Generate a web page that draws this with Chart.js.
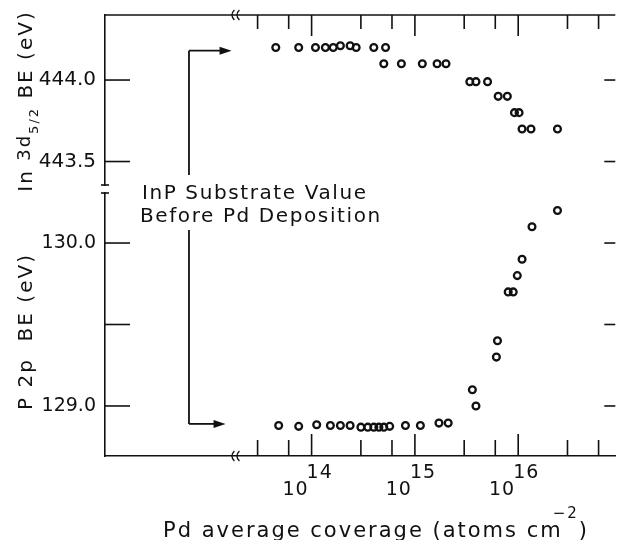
<!DOCTYPE html>
<html>
<head>
<meta charset="utf-8">
<script src="https://cdn.jsdelivr.net/npm/chart.js@4"></script>
<style>
  html, body { margin: 0; padding: 0; background: #fff; }
</style>
</head>
<body>
<canvas id="chart" width="621" height="540"></canvas>
<script>
// Pd coverage (atoms cm-2) and core level binding energies (eV)
var inCoverage = [4.5e13, 7.5e13, 1.09e14, 1.36e14, 1.62e14, 1.9e14, 2.36e14, 2.7e14, 4.0e14, 5.2e14,
                  5.0e14, 7.4e14, 1.18e15, 1.64e15, 2.0e15,
                  3.4e15, 3.9e15, 5.05e15, 6.4e15, 7.85e15, 9.2e15, 1.02e16, 1.09e16, 1.33e16, 2.4e16];
var inBE = [444.2, 444.2, 444.2, 444.2, 444.2, 444.21, 444.21, 444.2, 444.2, 444.2,
            444.1, 444.1, 444.1, 444.1, 444.1,
            443.99, 443.99, 443.99, 443.9, 443.9, 443.8, 443.8, 443.7, 443.7, 443.7];
var pCoverage = [4.8e13, 7.5e13, 1.12e14, 1.52e14, 1.9e14, 2.36e14, 3.0e14, 3.5e14, 4.0e14, 4.48e14,
                 5.0e14, 5.7e14, 8.1e14, 1.13e15, 1.71e15, 2.1e15,
                 3.6e15, 3.9e15, 6.15e15, 6.3e15, 8.0e15, 8.95e15, 9.8e15, 1.09e16, 1.36e16, 2.4e16];
var pBE = [128.88, 128.875, 128.885, 128.88, 128.88, 128.88, 128.87, 128.87, 128.87, 128.87,
           128.87, 128.875, 128.88, 128.88, 128.895, 128.895,
           129.1, 129.0, 129.3, 129.4, 129.7, 129.7, 129.8, 129.9, 130.1, 130.2];

var xTicks = [3e13, 6e13, 1e14, 3e14, 6e14, 1e15, 3e15, 6e15, 1e16, 3e16, 6e16];
var xDecades = [1e14, 1e15, 1e16];
var inTicks = [443.5, 444.0];
var inTickLabels = ['443.5', '444.0'];
var pTicks = [129.0, 129.5, 130.0];
var pTickLabels = ['129.0', '', '130.0'];

// substrate reference levels shown with arrows
var inSubstrate = 444.18;
var pSubstrate = 128.89;
var arrowCoverage = 6.5e12, inArrowTip = 1.68e13, pArrowTip = 1.47e13;
var xBreak = 1.75e13;

var ink = '#111';
var family = '"DejaVu Sans", sans-serif';

function pairs(xs, ys) {
  return xs.map(function(v, i) { return {x: v, y: ys[i]}; });
}
function leftWidth(s) {
  s.width = 105;
  s.paddingTop = 0;
  s.paddingBottom = 0;
}

function line(ctx, x1, y1, x2, y2) {
  ctx.beginPath(); ctx.moveTo(x1, y1); ctx.lineTo(x2, y2); ctx.stroke();
}

// draw a list of text runs (for sub/superscripts), centred on x
function runs(ctx, parts, x, y) {
  var w = 0;
  parts.forEach(function(p) {
    ctx.font = p.size + 'px ' + family;
    p.w = ctx.measureText(p.text).width + (p.dx || 0);
    w += p.w;
  });
  var cx = x - w / 2;
  parts.forEach(function(p) {
    ctx.font = p.size + 'px ' + family;
    ctx.fillText(p.text, cx + (p.dx || 0), y + (p.dy || 0));
    cx += p.w;
  });
}

var decorations = {
  id: 'decorations',
  afterDraw: function(chart) {
    var ctx = chart.ctx, a = chart.chartArea, s = chart.scales;
    var x = s.x, yIn = s.yIn, yP = s.yP;
    ctx.save();
    ctx.strokeStyle = ink;
    ctx.fillStyle = ink;
    ctx.lineWidth = 1.6;

    // top frame line
    line(ctx, a.left, a.top, a.right, a.top);

    // inward ticks on top and bottom
    x.ticks.forEach(function(t) {
      var px = x.getPixelForValue(t.value);
      var lg = Math.log10(t.value);
      var major = Math.abs(lg - Math.round(lg)) < 1e-6;
      line(ctx, px, a.bottom, px, a.bottom - (major ? 22 : 16));
      line(ctx, px, a.top, px, a.top + (major ? 21 : 14));
    });
    // inward ticks on left and right
    [yIn, yP].forEach(function(sc) {
      sc.ticks.forEach(function(t) {
        var py = sc.getPixelForValue(t.value);
        line(ctx, a.left, py, a.left + 25, py);
        line(ctx, a.right - 11, py, a.right, py);
      });
    });

    // y axis break caps
    line(ctx, a.left - 4, yIn.bottom, a.left + 4, yIn.bottom);
    line(ctx, a.left - 4, yP.top, a.left + 4, yP.top);

    // x axis break marks
    var xb = x.getPixelForValue(xBreak);
    ctx.lineWidth = 1.3;
    [a.top, a.bottom].forEach(function(yy) {
      [0, 5].forEach(function(k) {
        ctx.beginPath();
        ctx.moveTo(xb + k + 1, yy - 5);
        ctx.quadraticCurveTo(xb + k - 4, yy, xb + k + 1, yy + 5);
        ctx.stroke();
      });
    });

    // decade labels 10^n
    ctx.letterSpacing = '1px';
    ctx.font = '19px ' + family;
    xDecades.forEach(function(v) {
      var px = x.getPixelForValue(v);
      ctx.textAlign = 'right';
      ctx.fillText('10', px - 3, 495);
      ctx.textAlign = 'left';
      ctx.fillText(String(Math.round(Math.log10(v))), px - 5, 478);
    });

    // axis titles
    ctx.textAlign = 'left';
    ctx.letterSpacing = '2px';
    runs(ctx, [
      {text: 'Pd average coverage (atoms cm', size: 21},
      {text: '\u22122', size: 15, dy: -19, dx: -10},
      {text: ')', size: 21}
    ], 376, 537);

    ctx.save();
    ctx.translate(32, (yIn.top + yIn.bottom) / 2 + 1);
    ctx.rotate(-Math.PI / 2);
    runs(ctx, [
      {text: 'In ', size: 20},
      {text: '3d', size: 18, dy: -2},
      {text: '5/2', size: 13, dy: 6},
      {text: ' BE (eV)', size: 20}
    ], 0, 0);
    ctx.restore();

    ctx.save();
    ctx.translate(32, (yP.top + yP.bottom) / 2 + 7);
    ctx.rotate(-Math.PI / 2);
    runs(ctx, [{text: 'P 2p  BE (eV)', size: 20}], 0, 0);
    ctx.restore();

    // substrate annotation
    var ax = x.getPixelForValue(arrowCoverage);
    var yi = yIn.getPixelForValue(inSubstrate);
    var yp = yP.getPixelForValue(pSubstrate);
    var ti = x.getPixelForValue(inArrowTip);
    var tp = x.getPixelForValue(pArrowTip);
    ctx.lineWidth = 1.8;
    line(ctx, ax, yi, ax, yIn.bottom - 10);
    line(ctx, ax, yP.top + 37, ax, yp);
    line(ctx, ax, yi, ti - 8, yi);
    line(ctx, ax, yp, tp - 8, yp);
    [[ti, yi], [tp, yp]].forEach(function(p) {
      ctx.beginPath();
      ctx.moveTo(p[0], p[1]);
      ctx.lineTo(p[0] - 12, p[1] - 4);
      ctx.lineTo(p[0] - 12, p[1] + 4);
      ctx.closePath();
      ctx.fill();
    });
    ctx.font = '20px ' + family;
    ctx.letterSpacing = '1.6px';
    ctx.fillText('InP Substrate Value', ax - 47, yIn.bottom + 14);
    ctx.fillText('Before Pd Deposition', ax - 49, yIn.bottom + 37);

    ctx.restore();
  }
};

new Chart(document.getElementById('chart'), {
  type: 'scatter',
  data: {
    datasets: [
      {label: 'In 3d5/2', data: pairs(inCoverage, inBE), yAxisID: 'yIn'},
      {label: 'P 2p', data: pairs(pCoverage, pBE), yAxisID: 'yP'}
    ]
  },
  options: {
    responsive: false,
    animation: false,
    devicePixelRatio: 1,
    layout: {padding: {top: 15, right: 0, bottom: 0, left: 0}},
    elements: {
      point: {radius: 3.4, hoverRadius: 3.4, borderWidth: 2.3, borderColor: ink, backgroundColor: 'rgba(0,0,0,0)'}
    },
    plugins: {legend: {display: false}, tooltip: {enabled: false}},
    scales: {
      x: {
        type: 'logarithmic', position: 'bottom',
        min: 1e12, max: Math.pow(10, 16.94),
        afterBuildTicks: function(sc) { sc.ticks = xTicks.map(function(v) { return {value: v}; }); },
        afterFit: function(sc) { sc.height = 84; sc.paddingLeft = 0; sc.paddingRight = 0; },
        grid: {display: false, drawTicks: false},
        border: {color: ink, width: 1.6},
        ticks: {display: false}
      },
      yP: {
        type: 'linear', position: 'left', stack: 'L', stackWeight: 263,
        min: 128.693, max: 130.307,
        afterBuildTicks: function(sc) { sc.ticks = pTicks.map(function(v) { return {value: v}; }); },
        afterFit: leftWidth,
        grid: {display: false, drawTicks: false},
        border: {color: ink, width: 1.6},
        ticks: {color: ink, padding: 9, font: {family: family, size: 19},
                callback: function(v, i) { return pTickLabels[i]; }}
      },
      yGap: {
        type: 'linear', position: 'left', stack: 'L', stackWeight: 8,
        min: 0, max: 1,
        afterFit: leftWidth,
        grid: {display: false, drawTicks: false},
        border: {display: false},
        ticks: {display: false}
      },
      yIn: {
        type: 'linear', position: 'left', stack: 'L', stackWeight: 170,
        min: 443.356, max: 444.399,
        afterBuildTicks: function(sc) { sc.ticks = inTicks.map(function(v) { return {value: v}; }); },
        afterFit: leftWidth,
        grid: {display: false, drawTicks: false},
        border: {color: ink, width: 1.6},
        ticks: {color: ink, padding: 9, font: {family: family, size: 20},
                callback: function(v, i) { return inTickLabels[i]; }}
      }
    }
  },
  plugins: [decorations]
});
</script>
</body>
</html>
